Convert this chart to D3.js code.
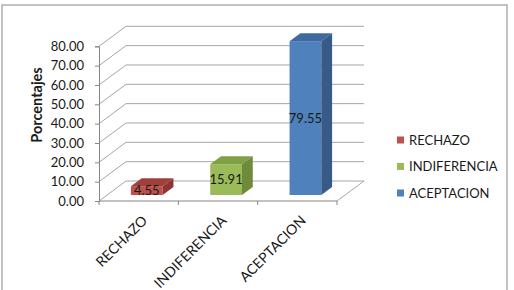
<!DOCTYPE html>
<html>
<head>
<meta charset="utf-8">
<script src="https://cdn.jsdelivr.net/npm/d3@7"></script>
<style>
  body { margin: 0; background: #fff; }
  text { font-family: Lato, "Open Sans", sans-serif; fill: #1a1a1a; }
</style>
</head>
<body>
<div id="chart"></div>
<script>
// Data
const categories = ["RECHAZO", "INDIFERENCIA", "ACEPTACION"];
const values = [4.55, 15.91, 79.55];
const yTicks = [0, 10, 20, 30, 40, 50, 60, 70, 80];

// Colours per face (front, top, side)
const fronts = ["#c0504d", "#9bbb59", "#4f81bd"];
const tops = ["#a0403d", "#80a044", "#3f6aa0"];
const sides = ["#8c3532", "#6f8b3a", "#375a88"];

const W = 514, H = 290;
// depth offset of the 3D box
const depth = {dx: 27, dy: -20};
const barFront = 0.3, barDepth = 0.4;

const svg = d3.select("#chart")
  .append("svg")
  .attr("width", W)
  .attr("height", H);

// chart border
svg.append("rect")
  .attr("x", 2).attr("y", 5)
  .attr("width", 505).attr("height", 300)
  .attr("fill", "#fff")
  .attr("stroke", "#b0b0b0")
  .attr("stroke-width", 1.5);

const x = d3.scaleBand()
  .domain(categories)
  .range([99, 337])
  .paddingInner(0.6)
  .paddingOuter(0.3);

const y = d3.scaleLinear()
  .domain([0, 80])
  .range([201, 46.3]);

const x0 = x.range()[0], x1 = x.range()[1];

// back wall gridlines + left wall diagonals
const grid = svg.append("g").attr("stroke", "#a6a6a6").attr("fill", "none");
yTicks.forEach(function(t) {
  grid.append("line")
    .attr("x1", x0 + depth.dx).attr("y1", y(t) + depth.dy)
    .attr("x2", x1 + depth.dx).attr("y2", y(t) + depth.dy);
  grid.append("line")
    .attr("x1", x0).attr("y1", y(t))
    .attr("x2", x0 + depth.dx).attr("y2", y(t) + depth.dy);
});
// floor right edge
grid.append("line")
  .attr("x1", x1).attr("y1", y(0))
  .attr("x2", x1 + depth.dx).attr("y2", y(0) + depth.dy);

// Y axis (front)
const yAxis = d3.axisLeft(y)
  .tickValues(yTicks)
  .tickFormat(d3.format(".2f"))
  .tickSize(4)
  .tickPadding(11);

const gy = svg.append("g")
  .attr("transform", "translate(" + x0 + ",0)")
  .call(yAxis);
gy.select(".domain").attr("stroke", "#868686");
gy.selectAll(".tick line").attr("stroke", "#868686");
gy.selectAll(".tick text")
  .style("font-size", "13px")
  .attr("fill", "#1a1a1a");

// X axis (front), ticks at category boundaries
const bounds = d3.range(categories.length + 1).map(function(i) {
  return x0 + (x1 - x0) * i / categories.length;
});
const gx = svg.append("g").attr("stroke", "#868686");
gx.append("line")
  .attr("x1", x0).attr("y1", y(0))
  .attr("x2", x1).attr("y2", y(0));
bounds.forEach(function(b) {
  gx.append("line")
    .attr("x1", b).attr("y1", y(0))
    .attr("x2", b).attr("y2", y(0) + 4);
});

// category labels, rotated
svg.append("g")
  .selectAll("text")
  .data(categories)
  .join("text")
  .attr("transform", function(d) {
    const cx = x(d) + x.bandwidth() / 2 + 6;
    return "translate(" + cx + "," + (y(0) + 17) + ") rotate(-45)";
  })
  .attr("text-anchor", "end")
  .attr("dy", "0.35em")
  .style("font-size", "14px")
  .text(function(d) { return d; });

// bars
const ox = depth.dx * barFront, oy = depth.dy * barFront;
const bx = depth.dx * barDepth, by = depth.dy * barDepth;
const bars = svg.append("g");
categories.forEach(function(c, i) {
  const left = x(c) + ox;
  const right = left + x.bandwidth();
  const top = y(values[i]) + oy;
  const bottom = y(0) + oy;
  const g = bars.append("g");
  // front
  g.append("rect")
    .attr("x", left).attr("y", top)
    .attr("width", right - left).attr("height", bottom - top)
    .attr("fill", fronts[i]);
  // top
  g.append("path")
    .attr("d", d3.line()([[left, top], [left + bx, top + by], [right + bx, top + by], [right, top]]) + "Z")
    .attr("fill", tops[i]);
  // side
  g.append("path")
    .attr("d", d3.line()([[right, top], [right + bx, top + by], [right + bx, bottom + by], [right, bottom]]) + "Z")
    .attr("fill", sides[i]);
  // label
  g.append("text")
    .attr("x", (left + right) / 2)
    .attr("y", (top + bottom) / 2)
    .attr("text-anchor", "middle")
    .attr("dy", "0.35em")
    .style("font-size", "13px")
    .attr("fill", "#262626")
    .text(d3.format(".2f")(values[i]));
});

// y title
svg.append("text")
  .attr("transform", "translate(42,105) rotate(-90)")
  .attr("text-anchor", "middle")
  .style("font-size", "14.5px")
  .style("font-weight", "bold")
  .text("Porcentajes");

// legend
const legend = svg.append("g")
  .selectAll("g")
  .data(categories)
  .join("g")
  .attr("transform", function(d, i) {
    return "translate(397," + (140 + i * 26.5) + ")";
  });
legend.append("rect")
  .attr("x", 0).attr("y", -3.5)
  .attr("width", 7).attr("height", 7)
  .attr("fill", function(d, i) { return fronts[i]; });
legend.append("text")
  .attr("x", 12)
  .attr("dy", "0.35em")
  .style("font-size", "13px")
  .text(function(d) { return d; });
</script>
</body>
</html>
